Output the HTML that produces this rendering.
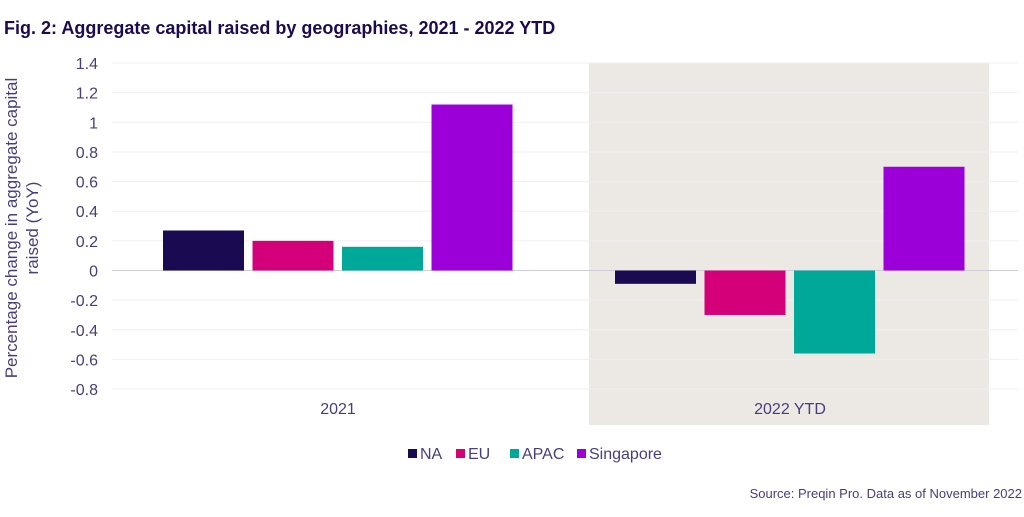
<!DOCTYPE html>
<html><head><meta charset="utf-8"><style>
body{margin:0;background:#fff;width:1024px;height:512px;overflow:hidden;font-family:"Liberation Sans",sans-serif;}
</style></head><body>
<svg width="1024" height="512">
<text x="4" y="34" font-size="18" font-weight="bold" fill="#1e0a4e">Fig. 2: Aggregate capital raised by geographies, 2021 - 2022 YTD</text>
<rect x="589" y="63" width="400" height="362" fill="#ece8e4"/>
<g id="grid"></g><g id="bars"></g><g id="labels"></g>
<text transform="translate(20,228) rotate(-90)" text-anchor="middle" font-size="17" fill="#4a3d7a"><tspan x="0" dy="-3">Percentage change in aggregate capital</tspan><tspan x="0" dy="21">raised (YoY)</tspan></text>
<g id="legend"></g>
<text x="1022" y="498" text-anchor="end" font-size="13" fill="#4a3d7a">Source: Preqin Pro. Data as of November 2022</text>
</svg>
<script>
const groups=["2021","2022 YTD"];
const series=["NA","EU","APAC","Singapore"];
const colors=["#1a0a52","#d4007a","#00a89a","#9b00d8"];
const values=[[0.27,0.20,0.16,1.12],[-0.09,-0.30,-0.56,0.70]];
const ticks=[1.4,1.2,1,0.8,0.6,0.4,0.2,0,-0.2,-0.4,-0.6,-0.8];
const tickLabels=["1.4","1.2","1","0.8","0.6","0.4","0.2","0","-0.2","-0.4","-0.6","-0.8"];
const ns="http://www.w3.org/2000/svg";
const y=v=>270.5-v*148.2;
function mk(t,a,p){const e=document.createElementNS(ns,t);for(const k in a)e.setAttribute(k,a[k]);p.appendChild(e);return e;}
const G=document.getElementById('grid'),B=document.getElementById('bars'),L=document.getElementById('labels'),Lg=document.getElementById('legend');
ticks.forEach((t,i)=>{
 const ln=mk('line',{x1:112,x2:1018,y1:y(t),y2:y(t),stroke:t===0?'#d0ccd8':'#f0eef2','stroke-width':1},G);
 
 
 const tx=mk('text',{x:98,y:y(t)+6,'text-anchor':'end','font-size':16,fill:'#4a3d7a'},L);
 tx.textContent=tickLabels[i];
 
 
});
const groupStart=[163,615],step=89.5,bw=81;
groups.forEach((g,gi)=>{
 values[gi].forEach((v,si)=>{
  const x=groupStart[gi]+si*step;
  const r=mk('rect',{x:x,y:Math.min(y(v),y(0)),width:bw,height:Math.abs(y(v)-y(0)),fill:colors[si]},B);
  
  
 });
 const tx=mk('text',{x:groupStart[gi]+175,y:414,'text-anchor':'middle','font-size':16,fill:'#4a3d7a'},L);
 tx.textContent=g;
 
 
});
const lx=[408,456,510,577];
series.forEach((s,i)=>{
 const r=mk('rect',{x:lx[i],y:449,width:9,height:9,fill:colors[i]},Lg);
 
 
 const t=mk('text',{x:lx[i]+12,y:459,'font-size':16,fill:'#4a3d7a'},Lg);
 t.textContent=s;
 
 
});
</script>
</body></html>
